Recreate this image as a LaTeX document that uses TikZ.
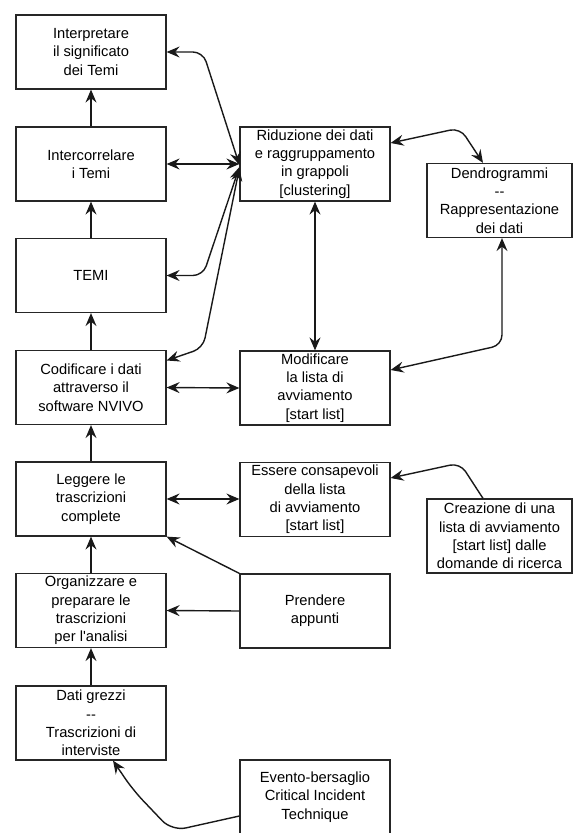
\documentclass[tikz,border=0pt]{standalone}
\usepackage{fontspec}
\setmainfont{Liberation Sans}[Ligatures=TeXOff]
\usetikzlibrary{arrows.meta}
\begin{document}
\begin{tikzpicture}[x=1pt,y=-1pt,
  box/.style={draw=black!85,line width=1.2pt,rectangle,align=center,inner sep=0pt,
    minimum width=150pt,minimum height=74pt,font=\fontsize{14.7}{18.3}\selectfont},
  rbox/.style={box,minimum width=145pt},
  conn/.style={draw=black!90,line width=1.4pt,rounded corners=10pt},
  tip/.style={-{Stealth[length=13pt,width=11pt,inset=4.5pt]}},
  dtip/.style={{Stealth[length=13pt,width=11pt,inset=4.5pt]}-{Stealth[length=13pt,width=11pt,inset=4.5pt]}}
]
\fill[white] (0,0) rectangle (574,833);
\useasboundingbox (0,0) rectangle (574,833);
\clip (0,0) rectangle (574,833);

% left column
\node[box] (b1) at (91,52) {Interpretare\\il significato\\dei Temi};
\node[box] (b2) at (91,164) {Intercorrelare\\i Temi};
\node[box] (b3) at (91,275.5) {TEMI};
\node[box] (b4) at (91,387.5) {Codificare i dati\\attraverso il\\software NVIVO};
\node[box] (b5) at (91,499) {Leggere le\\trascrizioni\\complete};
\node[box] (b6) at (91,610.5) {Organizzare e\\preparare le\\trascrizioni\\per l'analisi};
\node[box] (b7) at (91,723) {Dati grezzi\\--\\Trascrizioni di\\interviste};

% middle column
\node[box] (rid) at (315,164) {Riduzione dei dati\\e raggruppamento\\in grappoli\\{[clustering]}};
\node[box] (mod) at (315,388) {Modificare\\la lista di\\avviamento\\{[start list]}};
\node[box] (ess) at (315,499.5) {Essere consapevoli\\della lista\\di avviamento\\{[start list]}};
\node[box] (pre) at (315,611) {Prendere\\appunti};
\node[box] (eve) at (315,797) {Evento-bersaglio\\Critical Incident\\Technique};

% right column
\node[rbox] (den) at (499.5,200.5) {Dendrogrammi\\--\\Rappresentazione\\dei dati};
\node[rbox] (cre) at (499.5,536) {Creazione di una\\lista di avviamento\\{[start list]} dalle\\domande di ricerca};

% vertical flow
\draw[conn,tip] (b2.north) -- (b1.south);
\draw[conn,tip] (b3.north) -- (b2.south);
\draw[conn,tip] (b4.north) -- (b3.south);
\draw[conn,tip] (b5.north) -- (b4.south);
\draw[conn,tip] (b6.north) -- (b5.south);
\draw[conn,tip] (b7.north) -- (b6.south);

% Riduzione links
\draw[conn,dtip] (b1.east) -- (203,52) -- ([yshift=-1pt]rid.west);
\draw[conn,dtip] (b2.east) -- (rid.west);
\draw[conn,dtip] (b3.east) -- (203,275.5) -- ([yshift=-3pt]rid.west);
\draw[conn,dtip] ([yshift=27pt]b4.east) -- (203,348) -- ([yshift=-4pt]rid.west);
\draw[conn,dtip] ([yshift=21pt]rid.east) -- (460,128) -- ([xshift=-16.5pt]den.north);
\draw[conn,dtip] (rid.south) -- (mod.north);
\draw[conn,dtip] ([xshift=2.5pt]den.south) -- (502,345) -- ([yshift=18pt]mod.east);
\draw[conn,dtip] (b4.east) -- (mod.west);
\draw[conn,dtip] (b5.east) -- ([yshift=0.5pt]ess.west);
\draw[conn,tip] ([xshift=-16.5pt]cre.north) -- (460,463) -- ([yshift=21.5pt]ess.east);
\draw[conn,tip,rounded corners=0pt] (pre.north west) -- (b5.south east);
\draw[conn,tip] (pre.west) -- (b6.east);
\draw[conn,tip,rounded corners=14pt] ([yshift=-19pt]eve.west) -- (172,831) -- (133,790) -- ([xshift=22pt]b7.south);
\end{tikzpicture}
\end{document}
